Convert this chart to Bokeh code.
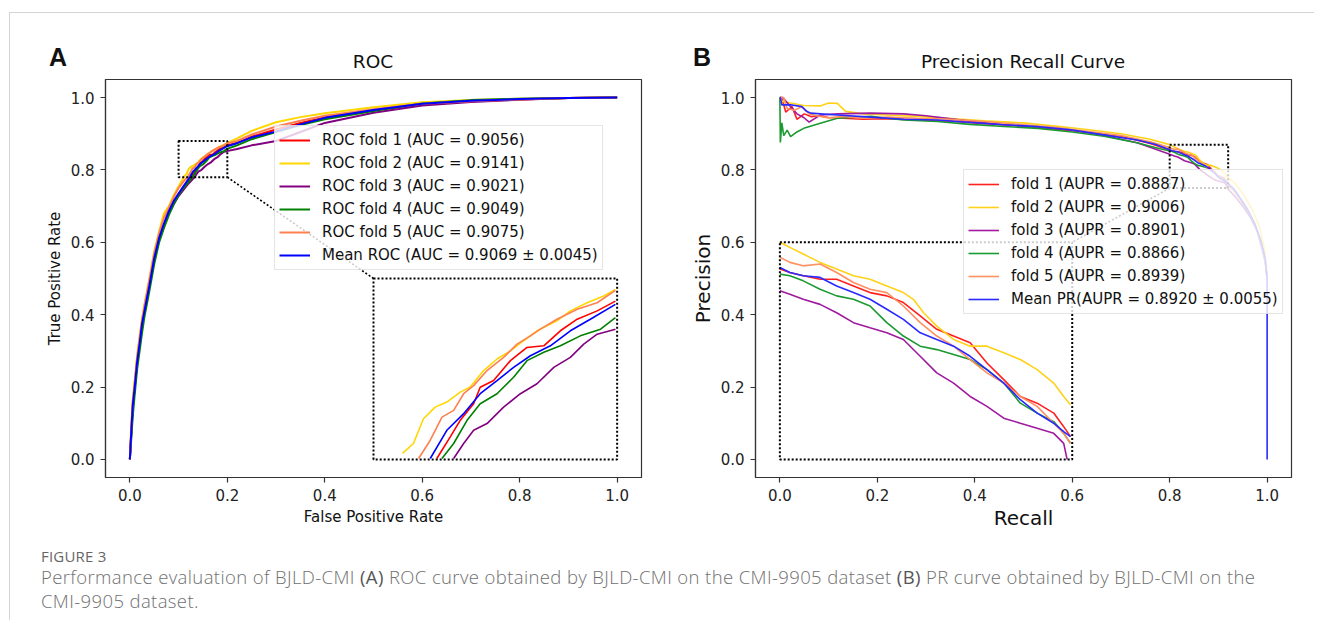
from bokeh.plotting import figure
from bokeh.models import (Range1d, FixedTicker, PrintfTickFormatter, Legend, LegendItem, Div)
from bokeh.layouts import row, column
from bokeh.embed import file_html
from bokeh.resources import INLINE

# ---------------------------------------------------------------- data
tick_values = [0.0, 0.2, 0.4, 0.6, 0.8, 1.0]

roc_labels = ["ROC fold 1 (AUC = 0.9056)", "ROC fold 2 (AUC = 0.9141)",
              "ROC fold 3 (AUC = 0.9021)", "ROC fold 4 (AUC = 0.9049)",
              "ROC fold 5 (AUC = 0.9075)", "Mean ROC (AUC = 0.9069 \u00b1 0.0045)"]
pr_labels = ["fold 1 (AUPR = 0.8887)", "fold 2 (AUPR = 0.9006)", "fold 3 (AUPR = 0.8901)",
             "fold 4 (AUPR = 0.8866)", "fold 5 (AUPR = 0.8939)",
             "Mean PR(AUPR = 0.8920 \u00b1 0.0055)"]

# ROC curves (fpr, tpr) per fold
roc_fpr_1 = [0, 0.003, 0.006, 0.01, 0.015, 0.02, 0.025, 0.03, 0.04, 0.05, 0.06, 0.07, 0.08, 0.09, 0.10, 0.11,
             0.1260, 0.1315, 0.1356, 0.1411, 0.1438, 0.1493, 0.1562, 0.1630, 0.1699, 0.1767, 0.1836, 0.1918, 0.1993,
             0.22, 0.25, 0.30, 0.35, 0.40, 0.50, 0.60, 0.70, 0.80, 0.90, 1.0]
roc_tpr_1 = [0, 0.08, 0.15, 0.21, 0.28, 0.33, 0.38, 0.415, 0.485, 0.555, 0.61, 0.648, 0.682, 0.71, 0.733, 0.752,
             0.7805, 0.7925, 0.8016, 0.8108, 0.8199, 0.8236, 0.8346, 0.8419, 0.8428, 0.8511, 0.8575, 0.8621, 0.8675,
             0.875, 0.892, 0.912, 0.930, 0.945, 0.966, 0.982, 0.990, 0.995, 0.999, 1.0]
roc_fpr_2 = [0, 0.003, 0.006, 0.01, 0.015, 0.02, 0.025, 0.03, 0.04, 0.05, 0.06, 0.07, 0.08, 0.09, 0.10,
             0.1119, 0.1164, 0.1205, 0.1253, 0.1301, 0.1356, 0.1397, 0.1452, 0.1507, 0.1562, 0.1616, 0.1671, 0.1753,
             0.1808, 0.1877, 0.1945, 0.1993,
             0.22, 0.25, 0.30, 0.35, 0.40, 0.50, 0.60, 0.70, 0.80, 0.90, 1.0]
roc_tpr_2 = [0, 0.10, 0.17, 0.22, 0.29, 0.34, 0.39, 0.43, 0.50, 0.575, 0.63, 0.68, 0.70, 0.73, 0.755,
             0.7833, 0.7888, 0.8025, 0.8089, 0.8117, 0.8172, 0.8200, 0.8291, 0.8355, 0.8400, 0.8456, 0.8511, 0.8566,
             0.8621, 0.8666, 0.8703, 0.8740,
             0.887, 0.908, 0.932, 0.946, 0.957, 0.973, 0.987, 0.993, 0.997, 0.999, 1.0]
roc_fpr_3 = [0, 0.003, 0.006, 0.01, 0.015, 0.02, 0.025, 0.03, 0.04, 0.05, 0.06, 0.07, 0.08, 0.09, 0.10, 0.11, 0.12,
             0.1329, 0.1370, 0.1411, 0.1466, 0.1534, 0.1603, 0.1671, 0.1740, 0.1808, 0.1863, 0.1918, 0.1993,
             0.22, 0.25, 0.30, 0.35, 0.40, 0.50, 0.60, 0.70, 0.80, 0.90, 1.0]
roc_tpr_3 = [0, 0.07, 0.14, 0.20, 0.27, 0.32, 0.37, 0.405, 0.475, 0.55, 0.605, 0.645, 0.68, 0.705, 0.728, 0.745, 0.762,
             0.7805, 0.7888, 0.7961, 0.7998, 0.8089, 0.8163, 0.8218, 0.8309, 0.8364, 0.8437, 0.8492, 0.8520,
             0.858, 0.868, 0.880, 0.905, 0.930, 0.958, 0.978, 0.988, 0.994, 0.999, 1.0]
roc_fpr_4 = [0, 0.003, 0.006, 0.01, 0.015, 0.02, 0.025, 0.03, 0.04, 0.05, 0.06, 0.07, 0.08, 0.09, 0.10, 0.11,
             0.1281, 0.1329, 0.1384, 0.1438, 0.1507, 0.1575, 0.1630, 0.1699, 0.1767, 0.1849, 0.1932, 0.1993,
             0.22, 0.25, 0.30, 0.35, 0.40, 0.50, 0.60, 0.70, 0.80, 0.90, 1.0]
roc_tpr_4 = [0, 0.06, 0.12, 0.18, 0.25, 0.30, 0.35, 0.395, 0.465, 0.54, 0.60, 0.64, 0.675, 0.705, 0.73, 0.75,
             0.7805, 0.7888, 0.8016, 0.8108, 0.8163, 0.8254, 0.8346, 0.8392, 0.8428, 0.8483, 0.8520, 0.8584,
             0.868, 0.885, 0.905, 0.924, 0.940, 0.963, 0.984, 0.993, 0.997, 0.999, 1.0]
roc_fpr_5 = [0, 0.003, 0.006, 0.01, 0.015, 0.02, 0.025, 0.03, 0.04, 0.05, 0.06, 0.07, 0.08, 0.09, 0.10, 0.11,
             0.1185, 0.1233, 0.1281, 0.1329, 0.1370, 0.1411, 0.1466, 0.1534, 0.1589, 0.1644, 0.1685, 0.1753, 0.1836,
             0.1918, 0.1993,
             0.22, 0.25, 0.30, 0.35, 0.40, 0.50, 0.60, 0.70, 0.80, 0.90, 1.0]
roc_tpr_5 = [0, 0.09, 0.16, 0.21, 0.28, 0.335, 0.385, 0.425, 0.495, 0.57, 0.625, 0.668, 0.695, 0.725, 0.75, 0.768,
             0.7805, 0.7906, 0.8034, 0.8071, 0.8163, 0.8208, 0.8291, 0.8364, 0.8437, 0.8483, 0.8520, 0.8575, 0.8630,
             0.8666, 0.8734,
             0.880, 0.898, 0.920, 0.936, 0.950, 0.968, 0.983, 0.990, 0.995, 0.999, 1.0]
roc_fpr_mean = [0, 0.003, 0.006, 0.01, 0.015, 0.02, 0.025, 0.03, 0.04, 0.05, 0.06, 0.07, 0.08, 0.09, 0.10, 0.11,
                0.1233, 0.1301, 0.1370, 0.1438, 0.1507, 0.1575, 0.1644, 0.1726, 0.1808, 0.1890, 0.1993,
                0.22, 0.25, 0.30, 0.35, 0.40, 0.50, 0.60, 0.70, 0.80, 0.90, 1.0]
roc_tpr_mean = [0, 0.08, 0.15, 0.20, 0.27, 0.32, 0.375, 0.41, 0.48, 0.556, 0.612, 0.652, 0.686, 0.714, 0.735, 0.755,
                0.7805, 0.7961, 0.8053, 0.8163, 0.8236, 0.8309, 0.8373, 0.8428, 0.8511, 0.8575, 0.8657,
                0.874, 0.890, 0.906, 0.926, 0.944, 0.966, 0.983, 0.991, 0.996, 0.999, 1.0]

# PR curves (recall, precision) per fold
pr_rec_1 = [0, 0.003, 0.006, 0.012, 0.025, 0.035, 0.05, 0.065, 0.08, 0.10, 0.13, 0.17, 0.22, 0.28, 0.35, 0.42,
            0.50, 0.57, 0.63, 0.70, 0.76,
            0.8000, 0.8041, 0.8096, 0.8165, 0.8233, 0.8302, 0.8370, 0.8439, 0.8507, 0.8576, 0.8644, 0.8713,
            0.8781, 0.8850, 0.8919, 0.8987, 0.9056, 0.9124, 0.9165, 0.9193,
            0.93, 0.945, 0.96, 0.975, 0.988, 0.996, 1.0]
pr_prec_1 = [1.0, 1.0, 0.99, 0.96, 0.975, 0.94, 0.955, 0.947, 0.95, 0.945, 0.943, 0.94, 0.942, 0.938, 0.935, 0.928,
             0.921, 0.912, 0.905, 0.893, 0.873,
             0.8552, 0.8533, 0.8515, 0.8496, 0.8496, 0.8459, 0.8422, 0.8404, 0.8367, 0.8293, 0.8219, 0.8182,
             0.8145, 0.8033, 0.7941, 0.7848, 0.7811, 0.7756, 0.7681, 0.7626,
             0.748, 0.72, 0.69, 0.65, 0.60, 0.55, 0.50]
pr_rec_2 = [0, 0.004, 0.022, 0.049, 0.083, 0.10, 0.118, 0.135, 0.17, 0.22, 0.28, 0.35, 0.42, 0.50, 0.57, 0.63,
            0.70, 0.76,
            0.8000, 0.8041, 0.8096, 0.8165, 0.8233, 0.8302, 0.8370, 0.8439, 0.8507, 0.8548, 0.8590, 0.8644,
            0.8713, 0.8781, 0.8850, 0.8919, 0.8987, 0.9056, 0.9124, 0.9165, 0.9193,
            0.935, 0.95, 0.97, 0.985, 0.995, 1.0]
pr_prec_2 = [1.0, 0.99, 0.985, 0.978, 0.977, 0.985, 0.984, 0.962, 0.955, 0.952, 0.948, 0.942, 0.936, 0.93, 0.921,
             0.912, 0.90, 0.885,
             0.8700, 0.8672, 0.8635, 0.8589, 0.8552, 0.8515, 0.8496, 0.8459, 0.8422, 0.8385, 0.8311, 0.8237,
             0.8163, 0.8126, 0.8126, 0.8089, 0.8052, 0.7996, 0.7922, 0.7848, 0.7802,
             0.762, 0.735, 0.69, 0.64, 0.58, 0.50]
pr_rec_3 = [0, 0.006, 0.022, 0.035, 0.049, 0.06, 0.083, 0.118, 0.186, 0.254, 0.30, 0.39, 0.46, 0.53, 0.60, 0.665,
            0.733, 0.77,
            0.8000, 0.8041, 0.8096, 0.8165, 0.8233, 0.8302, 0.8370, 0.8439, 0.8507, 0.8576, 0.8644, 0.8713,
            0.8781, 0.8850, 0.8919, 0.8987, 0.9056, 0.9124, 0.9165, 0.9179,
            0.935, 0.95, 0.965, 0.98, 0.99, 0.997, 1.0]
pr_prec_3 = [1.0, 1.0, 0.975, 0.955, 0.945, 0.932, 0.952, 0.955, 0.957, 0.955, 0.95, 0.935, 0.925, 0.918, 0.91,
             0.895, 0.875, 0.858,
             0.8432, 0.8413, 0.8385, 0.8357, 0.8311, 0.8256, 0.8228, 0.8200, 0.8163, 0.8070, 0.7978, 0.7922,
             0.7848, 0.7793, 0.7728, 0.7700, 0.7672, 0.7644, 0.7589, 0.7500,
             0.725, 0.70, 0.67, 0.63, 0.58, 0.54, 0.50]
pr_rec_4 = [0, 0.001, 0.004, 0.008, 0.015, 0.022, 0.035, 0.049, 0.083, 0.118, 0.186, 0.254, 0.323, 0.39, 0.46,
            0.53, 0.60, 0.665, 0.733, 0.77,
            0.8000, 0.8041, 0.8096, 0.8165, 0.8233, 0.8302, 0.8370, 0.8439, 0.8507, 0.8576, 0.8644, 0.8713,
            0.8781, 0.8850, 0.8919, 0.8987, 0.9056, 0.9124, 0.9165, 0.9193,
            0.93, 0.945, 0.96, 0.975, 0.988, 0.996, 1.0]
pr_prec_4 = [1.0, 0.876, 0.93, 0.895, 0.91, 0.892, 0.905, 0.915, 0.929, 0.943, 0.948, 0.938, 0.934, 0.926, 0.92,
             0.915, 0.905, 0.893, 0.875, 0.862,
             0.8524, 0.8515, 0.8487, 0.8441, 0.8404, 0.8385, 0.8348, 0.8256, 0.8182, 0.8126, 0.8107, 0.8080,
             0.8052, 0.7996, 0.7922, 0.7811, 0.7756, 0.7709, 0.7644, 0.7589,
             0.745, 0.718, 0.687, 0.647, 0.60, 0.55, 0.50]
pr_rec_5 = [0, 0.008, 0.015, 0.03, 0.045, 0.06, 0.075, 0.10, 0.13, 0.17, 0.22, 0.28, 0.35, 0.42, 0.50, 0.57,
            0.63, 0.70, 0.76,
            0.8000, 0.8041, 0.8096, 0.8165, 0.8233, 0.8302, 0.8370, 0.8439, 0.8507, 0.8576, 0.8644, 0.8713,
            0.8781, 0.8850, 0.8919, 0.8987, 0.9056, 0.9124, 0.9165, 0.9193,
            0.93, 0.945, 0.96, 0.975, 0.988, 0.996, 1.0]
pr_prec_5 = [1.0, 1.0, 0.97, 0.965, 0.975, 0.955, 0.95, 0.944, 0.948, 0.943, 0.946, 0.943, 0.94, 0.934, 0.925,
             0.917, 0.907, 0.895, 0.878,
             0.8617, 0.8589, 0.8570, 0.8580, 0.8533, 0.8478, 0.8441, 0.8422, 0.8348, 0.8256, 0.8182, 0.8126,
             0.8052, 0.7978, 0.7922, 0.7848, 0.7793, 0.7700, 0.7644, 0.7589,
             0.745, 0.72, 0.69, 0.65, 0.60, 0.55, 0.50]
pr_rec_mean = [0, 0.001, 0.004, 0.022, 0.045, 0.055, 0.063, 0.118, 0.186, 0.254, 0.323, 0.391, 0.46, 0.528,
               0.597, 0.665, 0.733, 0.77,
               0.8000, 0.8041, 0.8096, 0.8165, 0.8233, 0.8302, 0.8370, 0.8439, 0.8507, 0.8576, 0.8644, 0.8713,
               0.8781, 0.8850, 0.8919, 0.8987, 0.9056, 0.9124, 0.9165, 0.9193,
               0.93, 0.945, 0.96, 0.975, 0.988, 0.996, 1.0, 1.0]
pr_prec_mean = [1.0, 1.0, 0.98, 0.98, 0.975, 0.962, 0.957, 0.952, 0.946, 0.94, 0.938, 0.931, 0.925, 0.92, 0.911,
                0.897, 0.883, 0.871,
                0.8561, 0.8533, 0.8515, 0.8506, 0.8459, 0.8422, 0.8385, 0.8330, 0.8274, 0.8200, 0.8163, 0.8126,
                0.8070, 0.7996, 0.7922, 0.7830, 0.7756, 0.7700, 0.7654, 0.7626,
                0.75, 0.722, 0.69, 0.65, 0.60, 0.555, 0.50, 0.0]

# zoomed regions (source window -> inset window), in data units
roc_zoom_src = (0.1, 0.2, 0.78, 0.88)
roc_zoom_dst = (0.5, 1.0, 0.0, 0.5)
pr_zoom_src = (0.8, 0.92, 0.75, 0.87)
pr_zoom_dst = (0.0, 0.6, 0.0, 0.6)

# ---------------------------------------------------------------- style
FONT = "DejaVu Sans"
DOT = "2 2"
roc_colors = ["#ff0000", "#ffd700", "#800080", "#008000", "#ff7f50", "#0000ff"]
pr_colors = ["#ff2020", "#ffd21a", "#a01aa0", "#1a9a30", "#ff9060", "#2a2aff"]


def zoom_view(xs, ys, src, dst):
    x0, x1, y0, y1 = src
    X0, X1, Y0, Y1 = dst
    pts = [(x, y) for x, y in zip(xs, ys) if x0 - 1e-9 <= x <= x1 + 1e-9 and y0 - 1e-9 <= y <= y1 + 1e-9]
    return ([X0 + (x - x0) * (X1 - X0) / (x1 - x0) for x, _ in pts],
            [Y0 + (y - y0) * (Y1 - Y0) / (y1 - y0) for _, y in pts])


def style_axes(p, xlabel, ylabel, label_size, xstand, ystand):
    p.grid.visible = False
    p.outline_line_color = "#333333"
    p.outline_line_width = 1.2
    p.background_fill_color = "white"
    p.border_fill_color = "white"
    for ax in (p.xaxis[0], p.yaxis[0]):
        ax.ticker = FixedTicker(ticks=tick_values)
        ax.formatter = PrintfTickFormatter(format="%.1f")
        ax.major_tick_out = 5
        ax.major_tick_in = 0
        ax.minor_tick_line_color = None
        ax.axis_line_color = "#333333"
        ax.axis_line_width = 1.2
        ax.major_tick_line_color = "#333333"
        ax.major_tick_line_width = 1.2
        ax.major_label_text_font = FONT
        ax.major_label_text_font_size = "15px"
        ax.major_label_text_color = "#222222"
        ax.major_label_standoff = 6
        ax.axis_label_text_font = FONT
        ax.axis_label_text_font_style = "normal"
        ax.axis_label_text_color = "#111111"
        ax.axis_label_text_font_size = label_size
    p.xaxis[0].axis_label = xlabel
    p.yaxis[0].axis_label = ylabel
    p.xaxis[0].axis_label_standoff = xstand
    p.yaxis[0].axis_label_standoff = ystand


def make_legend(items, loc):
    return Legend(items=items, location=loc, label_text_font=FONT, label_text_font_size="15px",
                  label_text_color="#111111", glyph_width=31, glyph_height=20, label_height=20,
                  spacing=3, padding=4, margin=0, label_standoff=12,
                  border_line_color="#cccccc", border_line_width=1,
                  background_fill_color="white", background_fill_alpha=0.8)


def draw_zoom(p, xs_list, ys_list, colors, src, dst, width):
    for xs, ys, c in zip(xs_list, ys_list, colors):
        zx, zy = zoom_view(xs, ys, src, dst)
        p.line(zx, zy, line_color=c, line_width=width)
    x0, x1, y0, y1 = src
    X0, X1, Y0, Y1 = dst
    dot = dict(fill_color=None, line_color="black", line_dash=DOT, line_width=2)
    p.quad(left=[x0], right=[x1], bottom=[y0], top=[y1], **dot)
    p.quad(left=[X0], right=[X1], bottom=[Y0], top=[Y1], **dot)


# ---------------------------------------------------------------- header (panel letters + titles)
def hdr(text, cx, cy, font, size, weight, w):
    return ('<div style="position:absolute; left:%.1fpx; top:%.1fpx; width:%dpx; height:30px; '
            'line-height:30px; text-align:center; white-space:nowrap; font-family:%s; font-size:%s; '
            'font-weight:%s; color:#111111;">%s</div>' % (cx - w / 2, cy - 15, w, font, size, weight, text))


header_html = ('<div style="position:relative; width:1304px; height:60px;">'
               + hdr("A", 48, 44, "'Liberation Sans', Arial, sans-serif", "25px", "bold", 40)
               + hdr("ROC", 363, 49, "'DejaVu Sans'", "18.5px", "normal", 300)
               + hdr("B", 692, 44, "'Liberation Sans', Arial, sans-serif", "25px", "bold", 40)
               + hdr("Precision Recall Curve", 1013, 49, "'DejaVu Sans'", "18.5px", "normal", 400)
               + '</div>')
header = Div(text=header_html, width=1304, height=60, margin=0)

# ---------------------------------------------------------------- panel A
pA = figure(width=650, height=459, x_range=Range1d(-0.05, 1.05), y_range=Range1d(-0.05, 1.05),
            output_backend="svg", toolbar_location=None,
            min_border_left=95, min_border_right=19, min_border_top=6, min_border_bottom=55)
style_axes(pA, "False Positive Rate", "True Positive Rate", "15px", 4, 4)

roc_x = [roc_fpr_1, roc_fpr_2, roc_fpr_3, roc_fpr_4, roc_fpr_5, roc_fpr_mean]
roc_y = [roc_tpr_1, roc_tpr_2, roc_tpr_3, roc_tpr_4, roc_tpr_5, roc_tpr_mean]

# connector from the small window to the enlarged window
pA.line([roc_zoom_src[1], roc_zoom_dst[0]], [roc_zoom_src[2], roc_zoom_dst[3]],
        line_color="black", line_dash=DOT, line_width=1.6)
roc_r = []
for xs, ys, c in zip(roc_x, roc_y, roc_colors):
    roc_r.append(pA.line(xs, ys, line_color=c, line_width=2))
draw_zoom(pA, roc_x, roc_y, roc_colors, roc_zoom_src, roc_zoom_dst, 1.6)
pA.add_layout(make_legend([LegendItem(label=l, renderers=[r]) for l, r in zip(roc_labels, roc_r)],
                          (169, 207)))

# ---------------------------------------------------------------- panel B
pB = figure(width=654, height=459, x_range=Range1d(-0.05, 1.05), y_range=Range1d(-0.05, 1.05),
            output_backend="svg", toolbar_location=None,
            min_border_left=95, min_border_right=23, min_border_top=6, min_border_bottom=55)
style_axes(pB, "Recall", "Precision", "20px", 2, 3)

pr_x = [pr_rec_1, pr_rec_2, pr_rec_3, pr_rec_4, pr_rec_5, pr_rec_mean]
pr_y = [pr_prec_1, pr_prec_2, pr_prec_3, pr_prec_4, pr_prec_5, pr_prec_mean]

pB.line([pr_zoom_src[0], pr_zoom_dst[1]], [pr_zoom_src[2], pr_zoom_dst[3]],
        line_color="black", line_dash=DOT, line_width=1.6)
pr_r = []
for xs, ys, c in zip(pr_x, pr_y, pr_colors):
    pr_r.append(pB.line(xs, ys, line_color=c, line_width=1.6))
draw_zoom(pB, pr_x, pr_y, pr_colors, pr_zoom_src, pr_zoom_dst, 1.6)
pB.add_layout(make_legend([LegendItem(label=l, renderers=[r]) for l, r in zip(pr_labels, pr_r)],
                          (208, 163)))

# ---------------------------------------------------------------- caption
caption_html = (
    '<div style="padding-left:31px; padding-top:15px; font-family:\'Open Sans\', sans-serif; color:#707070;">'
    '<div style="font-size:15px; line-height:18px; color:#666666; letter-spacing:0.2px;">FIGURE 3</div>'
    '<div style="font-size:18.5px; line-height:24px; font-weight:300; letter-spacing:0.38px; white-space:nowrap;">'
    'Performance evaluation of BJLD-CMI '
    '<b style="color:#555555;">(A)</b> ROC curve obtained by BJLD-CMI on the CMI-9905 dataset '
    '<b style="color:#555555;">(B)</b> PR curve obtained by BJLD-CMI on the<br>CMI-9905 dataset.</div>'
    '</div>'
)
cap = Div(text=caption_html, width=1304, height=88, margin=0)

layout = column(header, row(pA, pB), cap,
                styles={"border-top": "1px solid #d4d4d4", "border-left": "1px solid #d4d4d4",
                        "margin-top": "12px", "margin-left": "9px"})

open("out.html", "w").write(file_html(layout, INLINE))
